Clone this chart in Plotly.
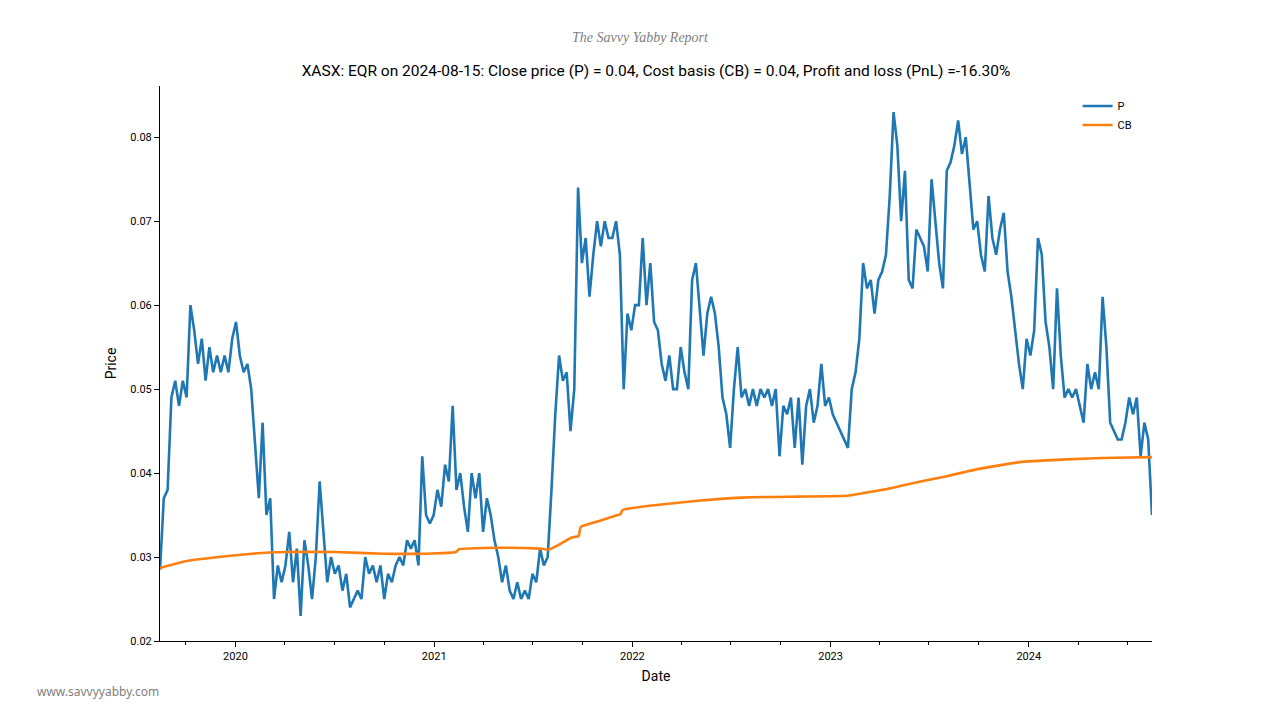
import pandas as pd
import plotly.graph_objects as go

# %%
# Data: weekly closes (P) and cost basis (CB)
start_date = "2019-08-15"
end_date = "2024-08-15"

price = [
    0.0285, 0.037, 0.038, 0.049, 0.051, 0.048, 0.051, 0.049, 0.060, 0.057,
    0.053, 0.056, 0.051, 0.055, 0.052, 0.054, 0.052, 0.054, 0.052, 0.056,
    0.058, 0.054, 0.052, 0.053, 0.050, 0.043, 0.037, 0.046, 0.035, 0.037,
    0.025, 0.029, 0.027, 0.029, 0.033, 0.027, 0.031, 0.023, 0.032, 0.029,
    0.025, 0.030, 0.039, 0.033, 0.027, 0.030, 0.028, 0.029, 0.026, 0.028,
    0.024, 0.025, 0.026, 0.025, 0.030, 0.028, 0.029, 0.027, 0.029, 0.025,
    0.028, 0.027, 0.029, 0.030, 0.029, 0.032, 0.031, 0.032, 0.029, 0.042,
    0.035, 0.034, 0.035, 0.038, 0.036, 0.041, 0.039, 0.048, 0.038, 0.040,
    0.036, 0.033, 0.040, 0.037, 0.040, 0.033, 0.037, 0.035, 0.032, 0.030,
    0.027, 0.029, 0.026, 0.025, 0.027, 0.025, 0.026, 0.025, 0.028, 0.027,
    0.031, 0.029, 0.030, 0.038, 0.047, 0.054, 0.051, 0.052, 0.045, 0.050,
    0.074, 0.065, 0.068, 0.061, 0.066, 0.070, 0.067, 0.070, 0.068, 0.068,
    0.070, 0.066, 0.050, 0.059, 0.057, 0.060, 0.060, 0.068, 0.060, 0.065,
    0.058, 0.057, 0.053, 0.051, 0.054, 0.050, 0.050, 0.055, 0.052, 0.050,
    0.063, 0.065, 0.059, 0.054, 0.059, 0.061, 0.059, 0.055, 0.049, 0.047,
    0.043, 0.050, 0.055, 0.049, 0.050, 0.048, 0.050, 0.048, 0.050, 0.049,
    0.050, 0.048, 0.050, 0.042, 0.048, 0.047, 0.049, 0.043, 0.049, 0.041,
    0.048, 0.050, 0.046, 0.048, 0.053, 0.048, 0.049, 0.047, 0.046, 0.045,
    0.044, 0.043, 0.050, 0.052, 0.056, 0.065, 0.062, 0.063, 0.059, 0.063,
    0.064, 0.066, 0.073, 0.083, 0.079, 0.070, 0.076, 0.063, 0.062, 0.069,
    0.068, 0.067, 0.064, 0.075, 0.070, 0.065, 0.062, 0.076, 0.077, 0.079,
    0.082, 0.078, 0.080, 0.074, 0.069, 0.070, 0.066, 0.064, 0.073, 0.068,
    0.066, 0.069, 0.071, 0.064, 0.061, 0.057, 0.053, 0.050, 0.056, 0.054,
    0.057, 0.068, 0.066, 0.058, 0.055, 0.050, 0.062, 0.054, 0.049, 0.050,
    0.049, 0.050, 0.048, 0.046, 0.053, 0.050, 0.052, 0.050, 0.061, 0.055,
    0.046, 0.045, 0.044, 0.044, 0.046, 0.049, 0.047, 0.049, 0.042, 0.046,
    0.044, 0.035,
]
price_dates = pd.date_range(start_date, periods=len(price), freq="7D")

cb_dates = [
    "2019-08-15", "2019-10-01", "2019-12-01", "2020-02-01", "2020-04-01",
    "2020-07-01", "2020-10-01", "2020-12-15", "2021-02-10", "2021-02-15",
    "2021-05-01", "2021-07-15", "2021-08-01", "2021-08-20", "2021-09-10",
    "2021-09-24", "2021-09-28", "2021-11-01", "2021-12-05", "2021-12-10",
    "2021-12-14", "2022-02-01", "2022-05-01", "2022-08-01", "2022-11-01",
    "2023-02-01", "2023-03-01", "2023-04-15", "2023-06-01", "2023-08-01",
    "2023-10-01", "2023-12-15", "2024-03-01", "2024-05-15", "2024-08-15",
]
cost_basis = [
    0.0287, 0.0295, 0.0300, 0.0304, 0.0306,
    0.0306, 0.0304, 0.0304, 0.0306, 0.0309,
    0.0311, 0.0310, 0.0309, 0.0315, 0.0323,
    0.0325, 0.0336, 0.0343, 0.0350, 0.0351,
    0.0356, 0.0361, 0.0367, 0.0371, 0.0372,
    0.0373, 0.0376, 0.0381, 0.0388, 0.0396,
    0.0405, 0.0413, 0.0416, 0.0418, 0.0419,
]

title_text = ("XASX: EQR on 2024-08-15: Close price (P) = 0.04, Cost basis (CB) = 0.04, "
              "Profit and loss (PnL) =-16.30%")

# %%
narrow = "Roboto, sans-serif"

fig = go.Figure()
fig.add_trace(go.Scatter(
    x=price_dates, y=price, mode="lines", name="P",
    line=dict(color="#1f77b4", width=2.6),
))
fig.add_trace(go.Scatter(
    x=pd.to_datetime(cb_dates), y=cost_basis, mode="lines", name="CB",
    line=dict(color="#ff7f0e", width=2.6, shape="spline", smoothing=0.4),
))

fig.update_xaxes(
    range=[start_date, end_date],
    tick0="2020-01-01", dtick="M12", tickformat="%Y",
    ticks="outside", ticklen=5, tickcolor="black",
    minor=dict(dtick="M3", ticks="outside", ticklen=3, tickcolor="black"),
    showline=True, linecolor="black", linewidth=1,
    showgrid=False, zeroline=False,
    title=dict(text="Date", font=dict(size=14, family=narrow, color="black"), standoff=8),
    tickfont=dict(size=11, family=narrow, color="black"),
)
fig.update_yaxes(
    range=[0.02, 0.0861], dtick=0.01, tickformat=".2f",
    ticks="outside", ticklen=5, tickcolor="black",
    showline=True, linecolor="black", linewidth=1,
    showgrid=False, zeroline=False,
    title=dict(text="Price", font=dict(size=14, family=narrow, color="black"), standoff=10),
    tickfont=dict(size=11, family=narrow, color="black"),
)

# page is drawn with an 8px offset, so margins are shifted to land the plot at 160..1152 x 86..641
fig.update_layout(
    width=1280, height=720,
    margin=dict(l=152, r=136, t=78, b=87),
    paper_bgcolor="white", plot_bgcolor="white",
    title=dict(text=title_text, x=648 / 1280, xanchor="center", y=1 - 63 / 720, yanchor="middle",
               font=dict(size=15.5, family=narrow, color="black")),
    legend=dict(x=0.925, y=0.99, xanchor="left", yanchor="top",
                bgcolor="rgba(0,0,0,0)", font=dict(size=11, family=narrow, color="black"),
                itemwidth=30, tracegroupgap=2),
    showlegend=True,
)

fig.add_annotation(
    text="<i>The Savvy Yabby Report</i>", xref="paper", yref="paper",
    x=(640 - 160) / 992, y=(641 - 37) / 555, xanchor="center", yanchor="middle",
    showarrow=False,
    font=dict(size=14, family="Liberation Serif, serif", color="#808080"),
)
fig.add_annotation(
    text="www.savvyyabby.com", xref="paper", yref="paper",
    x=(98 - 160) / 992, y=(641 - 691) / 555, xanchor="center", yanchor="middle",
    showarrow=False,
    font=dict(size=12, family="Noto Sans, sans-serif", color="#808080"),
)

fig.write_html("out.html")
